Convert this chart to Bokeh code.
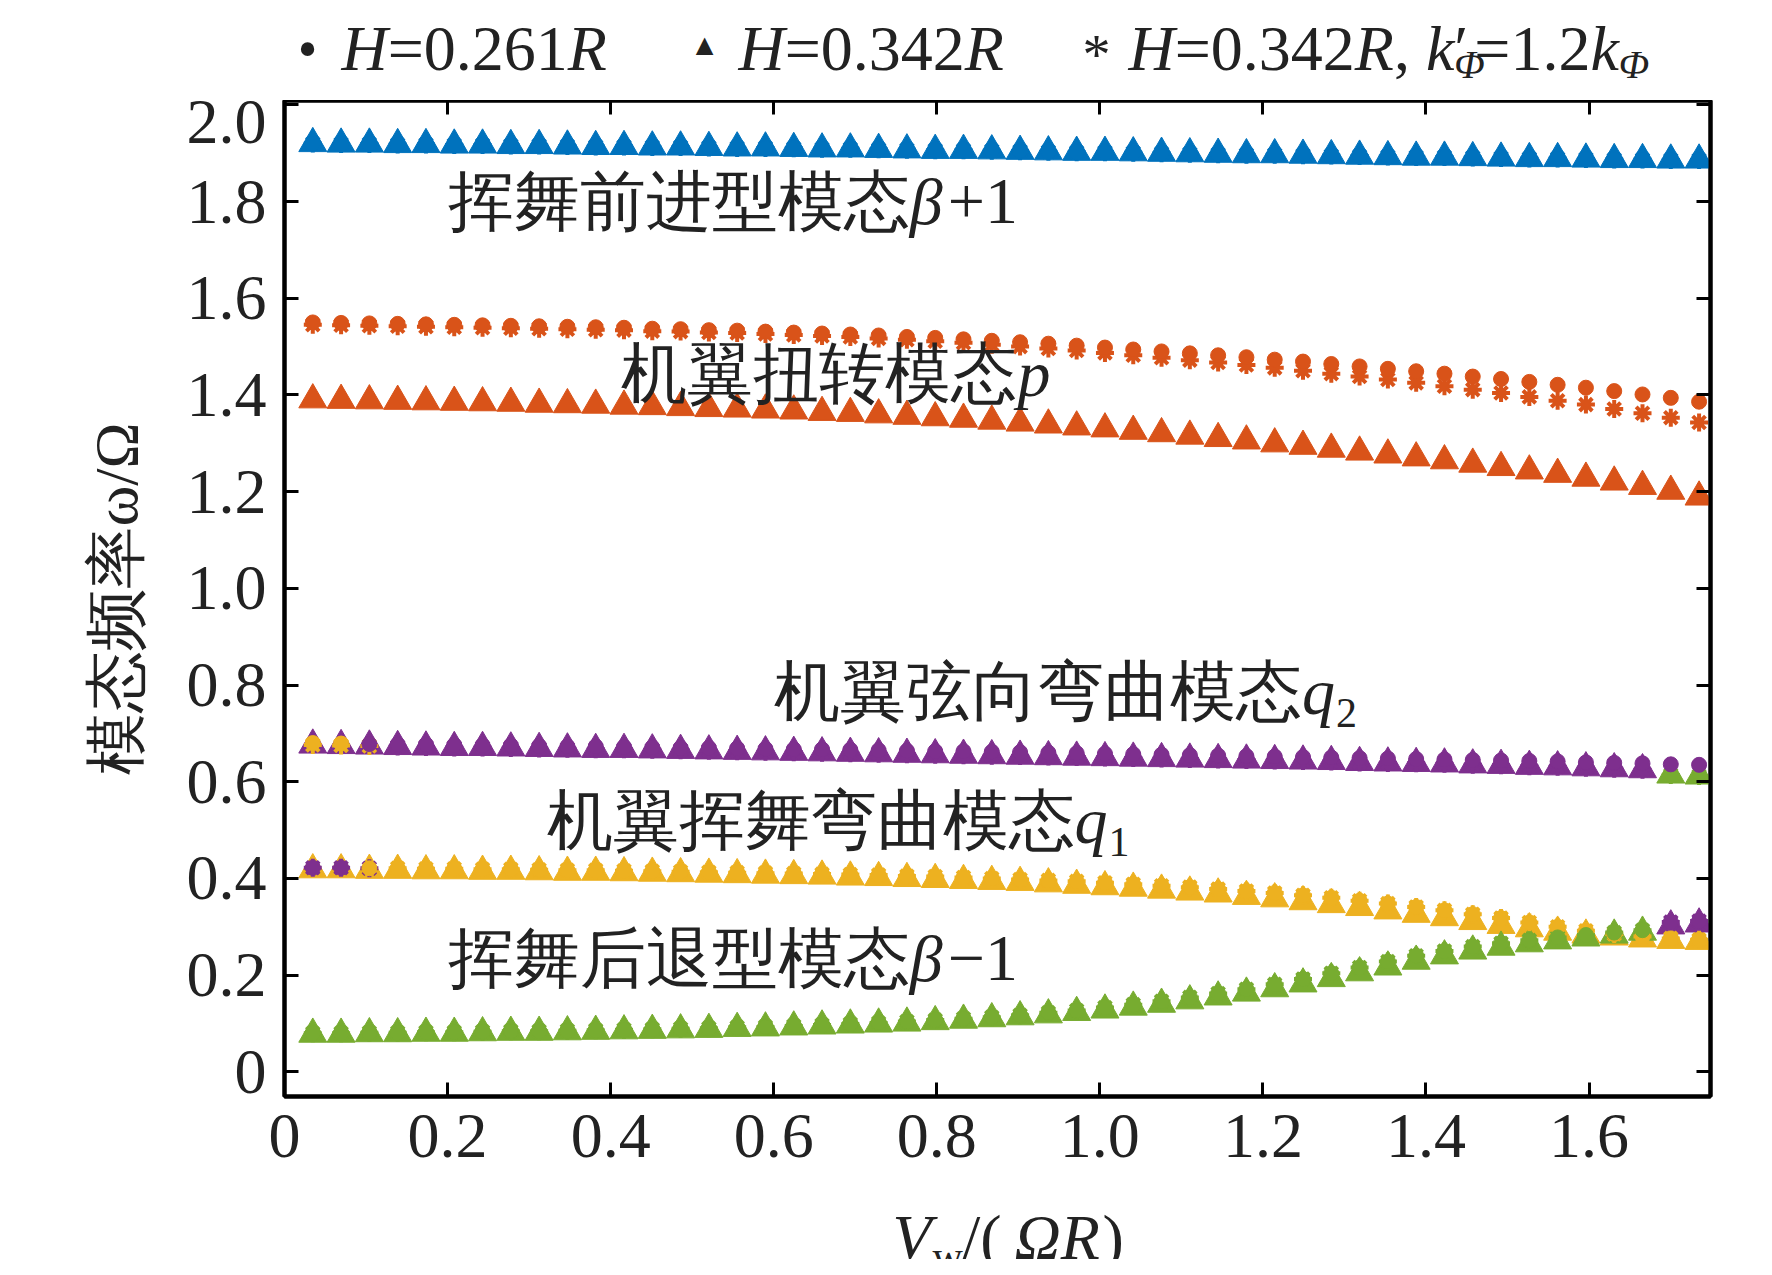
import numpy as np
from bokeh.plotting import figure
from bokeh.models import Label, LinearAxis, Range1d, FixedTicker
from bokeh.layouts import column
from bokeh.embed import file_html
from bokeh.resources import INLINE

VW = [round(0.0347 * k, 4) for k in range(1, 51)]

beta_p1 = [1.920,1.919,1.919,1.918,1.918,1.917,1.917,1.916,1.916,1.915,1.914,1.914,1.913,1.913,1.912,1.911,1.911,1.910,1.909,1.909,
           1.908,1.907,1.906,1.906,1.905,1.904,1.903,1.902,1.902,1.901,1.900,1.899,1.898,1.897,1.897,1.896,1.895,1.894,1.893,1.892,
           1.892,1.891,1.890,1.889,1.889,1.888,1.887,1.887,1.886,1.886]
p_tri = [1.390,1.389,1.388,1.387,1.386,1.385,1.384,1.383,1.381,1.380,1.379,1.377,1.376,1.374,1.372,1.371,1.369,1.367,1.364,1.362,
         1.359,1.356,1.353,1.350,1.346,1.342,1.338,1.334,1.330,1.325,1.320,1.315,1.310,1.305,1.299,1.294,1.288,1.282,1.276,1.270,
         1.264,1.257,1.250,1.243,1.236,1.228,1.220,1.211,1.201,1.189]
p_cir = [1.550,1.549,1.548,1.547,1.546,1.545,1.544,1.543,1.542,1.541,1.540,1.539,1.537,1.536,1.534,1.533,1.531,1.529,1.527,1.525,
         1.523,1.520,1.518,1.515,1.512,1.509,1.506,1.502,1.498,1.494,1.490,1.486,1.482,1.478,1.473,1.469,1.464,1.459,1.454,1.449,
         1.444,1.438,1.433,1.427,1.421,1.415,1.408,1.401,1.394,1.386]
p_star = [1.545,1.544,1.543,1.542,1.541,1.540,1.539,1.538,1.537,1.536,1.535,1.534,1.532,1.531,1.529,1.528,1.526,1.524,1.522,1.520,
          1.517,1.514,1.511,1.508,1.504,1.500,1.496,1.492,1.487,1.482,1.477,1.472,1.467,1.462,1.456,1.450,1.444,1.438,1.432,1.425,
          1.418,1.411,1.404,1.396,1.388,1.380,1.371,1.362,1.353,1.343]
q2_cir = [0.680,0.679,0.678,0.677,0.677,0.676,0.675,0.675,0.674,0.673,0.673,0.672,0.671,0.670,0.670,0.669,0.668,0.667,0.667,0.666,
          0.665,0.664,0.663,0.663,0.662,0.661,0.660,0.659,0.658,0.657,0.656,0.655,0.654,0.653,0.652,0.651,0.650,0.649,0.648,0.647,
          0.646,0.645,0.644,0.643,0.642,0.640,0.639,0.638,0.636,0.635]
q2_tri = [0.676,0.675,0.674,0.673,0.672,0.671,0.671,0.670,0.669,0.668,0.667,0.667,0.666,0.665,0.664,0.663,0.662,0.661,0.660,0.659,
          0.658,0.657,0.656,0.655,0.654,0.653,0.652,0.651,0.650,0.649,0.648,0.647,0.646,0.645,0.644,0.643,0.642,0.640,0.639,0.638,
          0.637,0.635,0.634,0.632,0.631,0.629,0.627,0.625,0.614,0.612]
q1_tri = [0.418,0.418,0.417,0.417,0.416,0.416,0.415,0.415,0.414,0.413,0.413,0.412,0.411,0.410,0.409,0.408,0.407,0.406,0.405,0.403,
          0.402,0.400,0.398,0.396,0.394,0.392,0.389,0.386,0.383,0.380,0.376,0.372,0.368,0.363,0.358,0.352,0.346,0.340,0.333,0.326,
          0.319,0.311,0.303,0.296,0.289,0.283,0.279,0.275,0.272,0.270]
q1_cir = [0.422,0.422,0.421,0.421,0.420,0.420,0.419,0.419,0.418,0.417,0.417,0.416,0.415,0.414,0.413,0.412,0.411,0.410,0.409,0.408,
          0.407,0.405,0.404,0.402,0.400,0.398,0.396,0.394,0.391,0.388,0.385,0.382,0.378,0.374,0.370,0.365,0.360,0.354,0.348,0.341,
          0.334,0.326,0.318,0.309,0.300,0.292,0.285,0.280,0.276,0.273]
bm1_tri = [0.078,0.078,0.079,0.079,0.080,0.080,0.081,0.082,0.082,0.083,0.084,0.085,0.086,0.087,0.088,0.090,0.091,0.093,0.095,0.097,
           0.099,0.101,0.104,0.107,0.110,0.114,0.118,0.123,0.128,0.134,0.140,0.147,0.155,0.163,0.172,0.182,0.193,0.205,0.217,0.229,
           0.240,0.250,0.258,0.265,0.271,0.277,0.283,0.289,0.302,0.306]
bm1_cir = [0.080,0.080,0.081,0.081,0.082,0.082,0.083,0.084,0.084,0.085,0.086,0.087,0.088,0.089,0.090,0.092,0.093,0.095,0.097,0.099,
           0.101,0.104,0.107,0.110,0.113,0.117,0.122,0.127,0.133,0.139,0.146,0.154,0.162,0.171,0.181,0.192,0.204,0.216,0.228,0.240,
           0.250,0.259,0.266,0.272,0.278,0.283,0.288,0.293,0.310,0.312]

BLUE, ORANGE, YELLOW, PURPLE, GREEN = "#0072BD", "#D95319", "#EDB120", "#7E2F8E", "#77AC30"
N = len(VW)

def cols(base, first=None, nfirst=0, last=None, nlast=0):
    c = [base] * N
    for i in range(nfirst):
        c[i] = first
    for i in range(nlast):
        c[N - 1 - i] = last
    return c

FONT = "Liberation Serif"
X0, X1, Y0, Y1 = 0.0, 1.749, -0.051, 2.009
PXX = 1426 / (X1 - X0)
PXY = 996 / (Y1 - Y0)

p = figure(width=1756, height=1096, x_range=Range1d(X0, X1), y_range=Range1d(Y0, Y1),
           output_backend="svg", toolbar_location=None,
           min_border_left=284, min_border_right=46, min_border_top=0, min_border_bottom=100)
p.xgrid.visible = False
p.ygrid.visible = False
p.outline_line_color = "black"
p.outline_line_width = 4

for ax, tk in ((p.xaxis[0], [0, 0.2, 0.4, 0.6, 0.8, 1.0, 1.2, 1.4, 1.6]),
               (p.yaxis[0], [0, 0.2, 0.4, 0.6, 0.8, 1.0, 1.2, 1.4, 1.6, 1.8, 2.0])):
    ax.ticker = FixedTicker(ticks=tk)
    ax.major_label_overrides = {t: ("0" if t == 0 else f"{t:.1f}") for t in tk}
    ax.major_tick_in = 14
    ax.major_tick_out = 0
    ax.major_tick_line_width = 3
    ax.minor_tick_line_color = None
    ax.axis_line_width = 4
    ax.major_label_text_font = FONT
    ax.major_label_text_font_size = "64px"
    ax.major_label_text_color = "#222222"
    ax.major_label_standoff = 18

p.yaxis[0].axis_label = "模态频率ω/Ω"
p.yaxis[0].axis_label_text_font = FONT
p.yaxis[0].axis_label_text_font_size = "62px"
p.yaxis[0].axis_label_text_font_style = "normal"
p.yaxis[0].axis_label_text_color = "#222222"
p.yaxis[0].axis_label_standoff = 34

for loc, tk in (("right", [0, 0.2, 0.4, 0.6, 0.8, 1.0, 1.2, 1.4, 1.6, 1.8, 2.0]),
                ("above", [0, 0.2, 0.4, 0.6, 0.8, 1.0, 1.2, 1.4, 1.6])):
    a = LinearAxis(ticker=FixedTicker(ticks=tk), major_label_text_font_size="0px",
                   major_tick_in=14, major_tick_out=0, major_tick_line_width=3,
                   minor_tick_line_color=None, axis_line_width=4, major_label_standoff=0)
    p.add_layout(a, loc)

def series(y, marker, colors, size):
    if marker == "asterisk":
        p.scatter(VW, y, marker=marker, size=size, line_color=colors, line_width=4)
    else:
        p.scatter(VW, y, marker=marker, size=size, fill_color=colors, line_color=colors)

series(beta_p1, "triangle", cols(BLUE), 28)
series(p_tri, "triangle", cols(ORANGE), 28)
series(q2_tri, "triangle", cols(PURPLE, last=GREEN, nlast=2), 28)
series(q1_tri, "triangle", cols(YELLOW), 28)
series(bm1_tri, "triangle", cols(GREEN, last=PURPLE, nlast=2), 28)
series(beta_p1, "asterisk", cols(BLUE), 18)
series(p_star, "asterisk", cols(ORANGE), 18)
series(q2_tri, "asterisk", cols(PURPLE, first=YELLOW, nfirst=3, last=GREEN, nlast=2), 18)
series(q1_cir, "asterisk", cols(YELLOW, first=PURPLE, nfirst=3), 18)
series(bm1_cir, "asterisk", cols(GREEN, last=PURPLE, nlast=2), 18)
series(beta_p1, "circle", cols(BLUE), 15)
series(p_cir, "circle", cols(ORANGE), 15)
series(q2_cir, "circle", cols(PURPLE, first=YELLOW, nfirst=2), 15)
series(q1_cir, "circle", cols(YELLOW, first=PURPLE, nfirst=2), 15)
series(bm1_cir, "circle", cols(GREEN, last=PURPLE, nlast=2), 15)

def put(fig, x, y, text, italic=False, size=64, align="left", baseline="middle", color="#222222"):
    fig.add_layout(Label(x=x, y=y, text=text, text_font=FONT, text_font_size=f"{size}px",
                         text_font_style="italic" if italic else "normal", text_align=align,
                         text_baseline=baseline, text_color=color))

for xa, ya, cjk, sym, rest, sub in (
        (0.767, 1.80, "挥舞前进型模态", "β", "+1", None),
        (0.899, 1.445, "机翼扭转模态", "p", "", None),
        (1.248, 0.787, "机翼弦向弯曲模态", "q", "", "2"),
        (0.969, 0.52, "机翼挥舞弯曲模态", "q", "", "1"),
        (0.767, 0.235, "挥舞后退型模态", "β", "−1", None)):
    put(p, xa, ya, cjk, align="right", size=66)
    put(p, xa, ya, sym, italic=True, size=66)
    if rest:
        put(p, xa + 38 / PXX, ya, rest, size=66)
    if sub:
        put(p, xa + 34 / PXX, ya - 22 / PXY, sub, size=42)

def strip(h):
    f = figure(width=1756, height=h, x_range=Range1d(X0, X1), y_range=Range1d(0, h),
               output_backend="svg", toolbar_location=None,
               min_border_left=284, min_border_right=46, min_border_top=0, min_border_bottom=0)
    f.xaxis.visible = False
    f.yaxis.visible = False
    f.xgrid.visible = False
    f.ygrid.visible = False
    f.outline_line_color = None
    return f

# legend strip (y in pixels)
leg = strip(100)
EM = 64
W = {"H": .722, "R": .611, "=": .564, ".": .25, ",": .25, " ": .25, "k": .444, "′": .2}

def wid(s, size=EM):
    return sum(W.get(ch, .5) for ch in s) * size / PXX

LY = 52

def seq(x, parts):
    for text, it, size, dy, adv in parts:
        put(leg, x, LY + dy, text, italic=it, size=size)
        if adv:
            x += wid(text, size)
    return x

put(leg, (307 - 284) / PXX, LY, "•", size=56, align="center")
seq((341 - 284) / PXX, [("H", True, EM, 0, 1), ("=0.261", False, EM, 0, 1), ("R", True, EM, 0, 1)])
put(leg, (704 - 284) / PXX, LY + 4, "▲", size=30, align="center")
seq((738 - 284) / PXX, [("H", True, EM, 0, 1), ("=0.342", False, EM, 0, 1), ("R", True, EM, 0, 1)])
put(leg, (1096 - 284) / PXX, LY - 6, "*", size=56, align="center")
seq((1128 - 284) / PXX, [("H", True, EM, 0, 1), ("=0.342", False, EM, 0, 1), ("R", True, EM, 0, 1),
                         (", ", False, EM, 0, 1), ("k", True, EM, 0, 1), ("′", False, EM, 0, 0),
                         ("Φ", True, 40, -16, 1), ("=1.2", False, EM, 0, 1), ("k", True, EM, 0, 1),
                         ("Φ", True, 40, -16, 1)])

# x-axis title strip
xs = strip(63)
xl = (892 - 284) / PXX
yl = 22
put(xs, xl, yl, "V", italic=True)
put(xs, xl + 40 / PXX, yl - 18, "w", size=42)
put(xs, xl + 70 / PXX, yl, "/(")
put(xs, xl + 122 / PXX, yl, "ΩR", italic=True)
put(xs, xl + 210 / PXX, yl, ")")

layout = column(leg, p, xs, spacing=0)
open("out.html", "w").write(file_html(layout, INLINE))
